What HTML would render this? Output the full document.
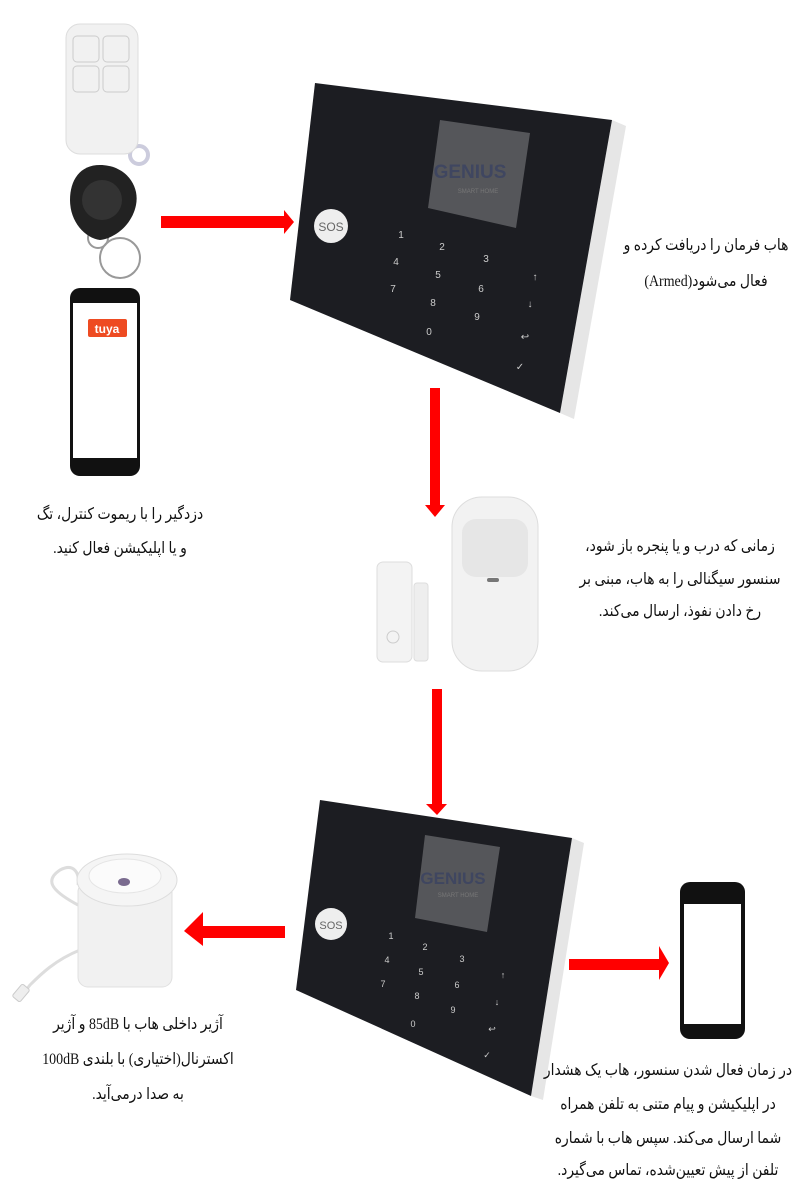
<!DOCTYPE html>
<html><head><meta charset="utf-8"><style>
html,body{margin:0;padding:0;background:#fff;width:800px;height:1200px;overflow:hidden}
.t{position:absolute;font-family:"Liberation Serif","DejaVu Sans",serif;font-size:16px;color:#111;text-align:center;direction:rtl;white-space:nowrap;line-height:1;width:300px;transform:scaleX(0.87);transform-origin:center}
</style></head><body>
<svg width="800" height="1200" style="position:absolute;left:0;top:0" xmlns="http://www.w3.org/2000/svg">
<!-- white remote -->
<circle cx="139" cy="155" r="9" fill="none" stroke="#ccd" stroke-width="4"/>
<rect x="66" y="24" width="72" height="130" rx="14" fill="#f1f1f1" stroke="#ddd"/>
<rect x="73" y="36" width="26" height="26" rx="4" fill="none" stroke="#ccc"/>
<rect x="103" y="36" width="26" height="26" rx="4" fill="none" stroke="#ccc"/>
<rect x="73" y="66" width="26" height="26" rx="4" fill="none" stroke="#ccc"/>
<rect x="103" y="66" width="26" height="26" rx="4" fill="none" stroke="#ccc"/>
<!-- black tag -->
<circle cx="98" cy="238" r="10" fill="none" stroke="#999" stroke-width="2"/>
<circle cx="120" cy="258" r="20" fill="none" stroke="#999" stroke-width="2"/>
<path d="M100 165 C125 165 140 185 136 205 C132 225 115 238 100 240 C85 238 70 222 70 200 C70 180 80 165 100 165Z" fill="#222"/>
<circle cx="102" cy="200" r="20" fill="#333"/>
<!-- tuya phone -->
<rect x="70" y="288" width="70" height="188" rx="10" fill="#111"/>
<rect x="73" y="303" width="64" height="155" fill="#fff"/>
<rect x="88" y="319" width="39" height="18" rx="2" fill="#ee4b22"/>
<text x="107" y="333" font-family="Liberation Sans,sans-serif" font-size="12" font-weight="bold" fill="#fff" text-anchor="middle">tuya</text>
<!-- arrow 1 -->
<polygon points="161,216 284,216 284,210 294,222 284,234 284,228 161,228" fill="#f00"/>
<!-- top hub -->
<polygon points="612,120 626,126 574,419 560,413" fill="#e6e6e6"/>
<polygon points="315,83 612,120 560,413 290,300" fill="#1c1d22"/>
<polygon points="440,120 530,133 516,228 428,208" fill="#55565a"/>
<text x="470" y="178" font-family="Liberation Sans,sans-serif" font-size="19" font-weight="bold" fill="#3f4660" text-anchor="middle">GENIUS</text>
<text x="478" y="193" font-family="Liberation Sans,sans-serif" font-size="6" fill="#777" text-anchor="middle">SMART HOME</text>
<circle cx="331" cy="226" r="17" fill="#eee"/>
<text x="331" y="231" font-family="Liberation Sans,sans-serif" font-size="12" fill="#666" text-anchor="middle">SOS</text>
<g font-family="Liberation Sans,sans-serif" font-size="10" fill="#ccc" text-anchor="middle">
<text x="401" y="238">1</text><text x="442" y="250">2</text><text x="486" y="262">3</text>
<text x="396" y="265">4</text><text x="438" y="278">5</text><text x="481" y="292">6</text>
<text x="393" y="292">7</text><text x="433" y="306">8</text><text x="477" y="320">9</text>
<text x="429" y="335">0</text><text x="535" y="280">↑</text><text x="530" y="307">↓</text>
<text x="525" y="340">↩</text><text x="520" y="370">✓</text></g>
<!-- arrow 2 -->
<polygon points="430,388 440,388 440,505 445,505 435,517 425,505 430,505" fill="#f00"/>
<!-- door sensor -->
<rect x="377" y="562" width="35" height="100" rx="6" fill="#f3f3f3" stroke="#ddd"/>
<circle cx="393" cy="637" r="6" fill="none" stroke="#ccc"/>
<rect x="414" y="583" width="14" height="78" rx="3" fill="#eee" stroke="#ddd"/>
<!-- PIR -->
<rect x="452" y="497" width="86" height="174" rx="30" fill="#f2f2f2" stroke="#ddd"/>
<rect x="462" y="519" width="66" height="58" rx="14" fill="#e6e6e6"/>
<rect x="487" y="578" width="12" height="4" rx="2" fill="#777"/>
<!-- arrow 3 -->
<polygon points="432,689 442,689 442,804 447,804 437,815 426,804 432,804" fill="#f00"/>
<!-- bottom hub -->
<polygon points="572,838 584,843 543,1100 531,1096" fill="#e6e6e6"/>
<polygon points="320,800 572,838 531,1096 296,990" fill="#1c1d22"/>
<polygon points="425,835 500,847 487,932 415,918" fill="#55565a"/>
<text x="453" y="884" font-family="Liberation Sans,sans-serif" font-size="17" font-weight="bold" fill="#3f4660" text-anchor="middle">GENIUS</text>
<text x="458" y="897" font-family="Liberation Sans,sans-serif" font-size="6" fill="#777" text-anchor="middle">SMART HOME</text>
<circle cx="331" cy="924" r="16" fill="#eee"/>
<text x="331" y="929" font-family="Liberation Sans,sans-serif" font-size="11" fill="#666" text-anchor="middle">SOS</text>
<g font-family="Liberation Sans,sans-serif" font-size="9" fill="#ccc" text-anchor="middle">
<text x="391" y="939">1</text><text x="425" y="950">2</text><text x="462" y="962">3</text>
<text x="387" y="963">4</text><text x="421" y="975">5</text><text x="457" y="988">6</text>
<text x="383" y="987">7</text><text x="417" y="999">8</text><text x="453" y="1013">9</text>
<text x="413" y="1027">0</text><text x="503" y="978">↑</text><text x="497" y="1005">↓</text>
<text x="492" y="1032">↩</text><text x="487" y="1058">✓</text></g>
<!-- arrow 4 -->
<polygon points="285,926 203,926 203,912 184,931 203,946 203,938 285,938" fill="#f00"/>
<!-- siren -->
<path d="M80 950 C55 960 40 975 30 985 L20 998" stroke="#ddd" stroke-width="3" fill="none"/>
<path d="M78 905 C50 890 45 880 60 870 C75 862 80 875 78 885" stroke="#ddd" stroke-width="3" fill="none"/>
<rect x="16" y="985" width="10" height="16" rx="2" fill="#eee" stroke="#ccc" transform="rotate(40 21 993)"/>
<rect x="78" y="882" width="94" height="105" rx="10" fill="#f1f1f1" stroke="#e0e0e0"/>
<ellipse cx="127" cy="880" rx="50" ry="26" fill="#f5f5f5" stroke="#ddd"/>
<ellipse cx="125" cy="876" rx="36" ry="17" fill="#fbfbfb" stroke="#e5e5e5"/>
<ellipse cx="124" cy="882" rx="6" ry="4" fill="#7a6b8f"/>
<!-- arrow 5 -->
<polygon points="569,959 659,959 659,946 669,963 659,980 659,970 569,970" fill="#f00"/>
<!-- phone 2 -->
<rect x="680" y="882" width="65" height="157" rx="10" fill="#111"/>
<rect x="684" y="904" width="57" height="120" fill="#fff"/>
</svg>
<div class="t" style="left:556px;top:238px">هاب فرمان را دریافت کرده و</div>
<div class="t" style="left:556px;top:274px">فعال می‌شود(Armed)</div>
<div class="t" style="left:-30px;top:507px">دزدگیر را با ریموت کنترل، تگ</div>
<div class="t" style="left:-30px;top:541px">و یا اپلیکیشن فعال کنید.</div>
<div class="t" style="left:530px;top:539px">زمانی که درب و یا پنجره باز شود،</div>
<div class="t" style="left:530px;top:572px">سنسور سیگنالی را به هاب، مبنی بر</div>
<div class="t" style="left:530px;top:604px">رخ دادن نفوذ، ارسال می‌کند.</div>
<div class="t" style="left:-12px;top:1017px">آژیر داخلی هاب با 85dB و آژیر</div>
<div class="t" style="left:-12px;top:1052px">اکسترنال(اختیاری) با بلندی 100dB</div>
<div class="t" style="left:-12px;top:1087px">به صدا درمی‌آید.</div>
<div class="t" style="left:518px;top:1063px">در زمان فعال شدن سنسور، هاب یک هشدار</div>
<div class="t" style="left:518px;top:1097px">در اپلیکیشن و پیام متنی به تلفن همراه</div>
<div class="t" style="left:518px;top:1131px">شما ارسال می‌کند. سپس هاب با شماره</div>
<div class="t" style="left:518px;top:1163px">تلفن از پیش تعیین‌شده، تماس می‌گیرد.</div>
</body></html>
